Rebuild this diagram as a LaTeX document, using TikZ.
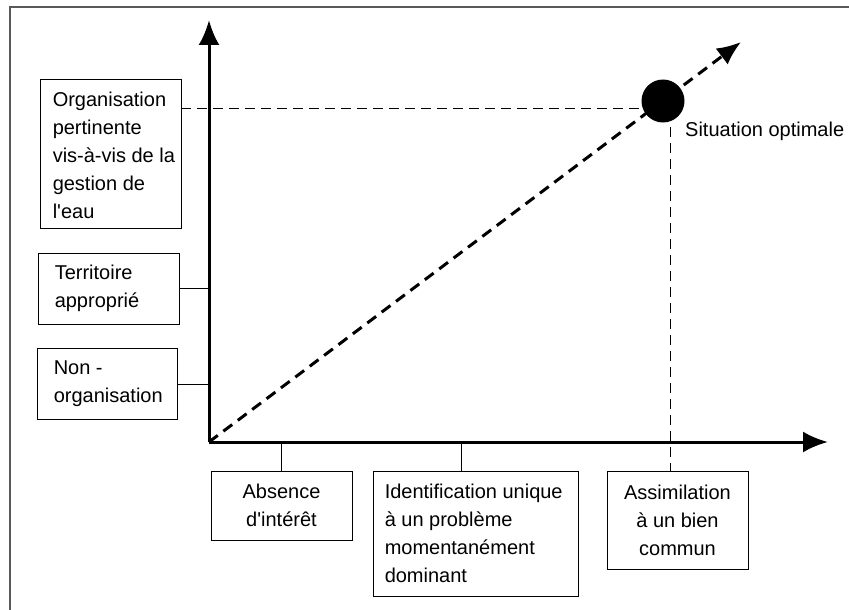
\documentclass[tikz,border=0pt]{standalone}
\usepackage{fontspec}
\setmainfont{Liberation Sans}
\usetikzlibrary{arrows.meta}
\begin{document}
\begin{tikzpicture}[x=1pt,y=-1pt,
  every node/.style={font=\fontsize{20}{28}\selectfont},
  frame/.style={draw, line width=0.9pt, inner sep=0pt},
  txt/.style={inner sep=0pt, align=left, anchor=west},
  cbox/.style={draw, line width=0.9pt, inner ysep=0pt, inner xsep=8pt, align=center},
  axis/.style={line width=3pt, -{Latex[length=25pt,width=21pt]}},
  diag/.style={line width=3pt, dash pattern=on 11pt off 7pt, -{Latex[length=24pt,width=20pt]}},
  guide/.style={line width=1pt, dash pattern=on 10pt off 6pt},
  conn/.style={line width=1pt}]
\useasboundingbox (0,0) rectangle (849,610);
% frame
\draw[line width=2pt, gray!70!black] (10,620) -- (10,7) -- (860,7);
% axes coordinates
\coordinate (O) at (209,442);
\coordinate (Ytip) at (209,20);
\coordinate (Xtip) at (828,442);
\coordinate (Dtip) at (741,42);
% boxes left
\node[frame, minimum width=141pt, minimum height=149pt] (b1) at (110.5,153.5) {};
\node[txt] (t1) at ([xshift=13pt,yshift=-2pt]b1.west)
  {Organisation\\pertinente\\vis-à-vis de la\\gestion de\\l\textquotesingle eau};
\node[frame, minimum width=141pt, minimum height=71pt] (b2) at (108.5,288.5) {};
\node[txt] (t2) at ([xshift=17pt]b2.west) {Territoire\\approprié};
\node[frame, minimum width=140pt, minimum height=71pt] (b3) at (107,384) {};
\node[txt] (t3) at ([xshift=17pt]b3.west) {Non -\\organisation};
% boxes bottom
\node[cbox, minimum width=141pt, minimum height=69pt] (bA) at (281.5,505.5)
  {Absence\\d\textquotesingle intérêt};
\node[frame, minimum width=205pt, minimum height=125pt] (bB) at (475.5,533.5) {};
\node[txt] (tB) at ([xshift=12pt]bB.west)
  {Identification unique\\à un problème\\momentanément\\dominant};
\node[cbox, minimum width=141pt, minimum height=98pt] (bC) at (677.5,520)
  {Assimilation\\à un bien\\commun};
% guides
\coordinate (h1) at (181,108);
\coordinate (v1) at (670,127);
\coordinate (cB) at (461,442);
\draw[guide] (h1) -- (663,108);
\draw[guide] (v1) -- (v1 |- bC.north);
% connectors
\draw[conn] (b2.east) -- (b2.east -| O);
\draw[conn] (b3.east) -- (b3.east -| O);
\draw[conn] (bA.north) -- (bA.north |- O);
\draw[conn] (cB) -- (cB |- bB.north);
% axes
\draw[axis] (O) -- (Ytip);
\draw[axis] (O) -- (Xtip);
\draw[diag] (O) -- (Dtip);
% optimum
\node[circle, fill=black, minimum size=43pt, inner sep=0pt] (dot) at (663,101) {};
\node[anchor=west, inner sep=0pt] (opt) at (685,131) {Situation optimale};
\end{tikzpicture}
\end{document}
